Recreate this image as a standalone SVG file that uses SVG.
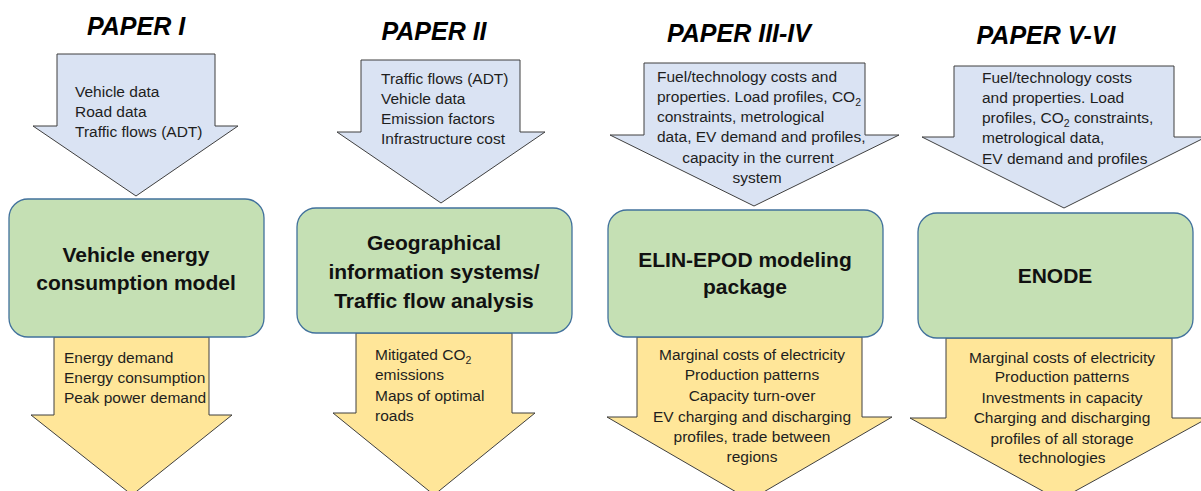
<svg xmlns="http://www.w3.org/2000/svg" width="1201" height="491" viewBox="0 0 1201 491">
<style>
.title{font-family:"Liberation Sans",Arial,sans-serif;font-weight:bold;font-style:italic;font-size:25px;fill:#000;text-anchor:middle}
.in{fill:#dae3f3;stroke:#3f3f3f;stroke-width:1}
.out{fill:#ffe699;stroke:#3f3f3f;stroke-width:1}
.box{fill:#c5e0b4;stroke:#41719c;stroke-width:1.3}
.t{font-family:"Liberation Sans",Arial,sans-serif;font-size:15.5px;fill:#1e1e1e}
.c{text-anchor:middle}
.b{font-family:"Liberation Sans",Arial,sans-serif;font-weight:bold;font-size:21px;fill:#111;text-anchor:middle}
.sub{font-size:10.5px}
</style>
<rect x="0" y="0" width="1201" height="491" fill="#fff"/>
<g id="connectors"></g>

<!-- Column 1 -->
<g id="title1"><text class="title" x="136" y="35">PAPER I</text></g>
<g id="input1">
<polygon class="in" points="57,54 215,54 215,126 238,126 136,196 33,126 57,126"/>
<text class="t" x="75" y="97">Vehicle data</text>
<text class="t" x="75" y="117">Road data</text>
<text class="t" x="75" y="137">Traffic flows (ADT)</text>
</g>
<g id="output1">
<polygon class="out" points="54,337 209,337 209,415 232,415 132,495 31,415 54,415"/>
<text class="t" x="64" y="363">Energy demand</text>
<text class="t" x="64" y="383">Energy consumption</text>
<text class="t" x="64" y="403">Peak power demand</text>
</g>
<g id="model1">
<rect class="box" x="9" y="199" width="255" height="138" rx="19"/>
<text class="b" x="136" y="262">Vehicle energy</text>
<text class="b" x="136" y="290">consumption model</text>
</g>

<!-- Column 2 -->
<g id="title2"><text class="title" x="434" y="40">PAPER II</text></g>
<g id="input2">
<polygon class="in" points="361,60 520,60 520,132 545,132 441,203 337,132 361,132"/>
<text class="t" x="381" y="84">Traffic flows (ADT)</text>
<text class="t" x="381" y="104">Vehicle data</text>
<text class="t" x="381" y="124">Emission factors</text>
<text class="t" x="381" y="144">Infrastructure cost</text>
</g>
<g id="output2">
<polygon class="out" points="356,333 512,333 512,413 535,413 434,495 333,413 356,413"/>
<text class="t" x="375" y="360">Mitigated CO<tspan class="sub" dy="4">2</tspan></text>
<text class="t" x="375" y="380">emissions</text>
<text class="t" x="375" y="401">Maps of optimal</text>
<text class="t" x="375" y="421">roads</text>
</g>
<g id="model2">
<rect class="box" x="297" y="208" width="275" height="125" rx="19"/>
<text class="b" x="434" y="250">Geographical</text>
<text class="b" x="434" y="279">information systems/</text>
<text class="b" x="434" y="308">Traffic flow analysis</text>
</g>

<!-- Column 3 -->
<g id="title3"><text class="title" x="739" y="42">PAPER III-IV</text></g>
<g id="input3">
<polygon class="in" points="644,63 865,63 865,135 899,135 754,206 610,135 644,135"/>
<text class="t" x="657" y="82">Fuel/technology costs and</text>
<text class="t" x="657" y="102">properties. Load profiles, CO<tspan class="sub" dy="4">2</tspan></text>
<text class="t" x="657" y="122">constraints, metrological</text>
<text class="t" x="657" y="142">data, EV demand and profiles,</text>
<text class="t c" x="758" y="163">capacity in the current</text>
<text class="t c" x="757" y="183">system</text>
</g>
<g id="output3">
<polygon class="out" points="637,337 862,337 862,417 892,417 750,500 607,417 637,417"/>
<text class="t c" x="752" y="360">Marginal costs of electricity</text>
<text class="t c" x="752" y="380">Production patterns</text>
<text class="t c" x="752" y="401">Capacity turn-over</text>
<text class="t c" x="752" y="422">EV charging and discharging</text>
<text class="t c" x="752" y="442">profiles, trade between</text>
<text class="t c" x="752" y="462">regions</text>
</g>
<g id="model3">
<rect class="box" x="608" y="210" width="275" height="127" rx="19"/>
<text class="b" x="745" y="267">ELIN-EPOD modeling</text>
<text class="b" x="745" y="294">package</text>
</g>

<!-- Column 4 -->
<g id="title4"><text class="title" x="1046" y="44">PAPER V-VI</text></g>
<g id="input4">
<polygon class="in" points="954,66 1174,66 1174,137 1206,137 1064,208 922,137 954,137"/>
<text class="t" x="982" y="83">Fuel/technology costs</text>
<text class="t" x="982" y="103">and properties. Load</text>
<text class="t" x="982" y="123">profiles, CO<tspan class="sub" dy="4">2</tspan><tspan dy="-4"> constraints,</tspan></text>
<text class="t" x="982" y="143">metrological data,</text>
<text class="t" x="982" y="164">EV demand and profiles</text>
</g>
<g id="output4">
<polygon class="out" points="946,338 1172,338 1172,418 1208,418 1059,500 910,418 946,418"/>
<text class="t c" x="1062" y="363">Marginal costs of electricity</text>
<text class="t c" x="1062" y="382">Production patterns</text>
<text class="t c" x="1062" y="403">Investments in capacity</text>
<text class="t c" x="1062" y="423">Charging and discharging</text>
<text class="t c" x="1062" y="444">profiles of all storage</text>
<text class="t c" x="1062" y="463">technologies</text>
</g>
<g id="model4">
<rect class="box" x="918" y="213" width="275" height="125" rx="19"/>
<text class="b" x="1055" y="283">ENODE</text>
</g>
</svg>
